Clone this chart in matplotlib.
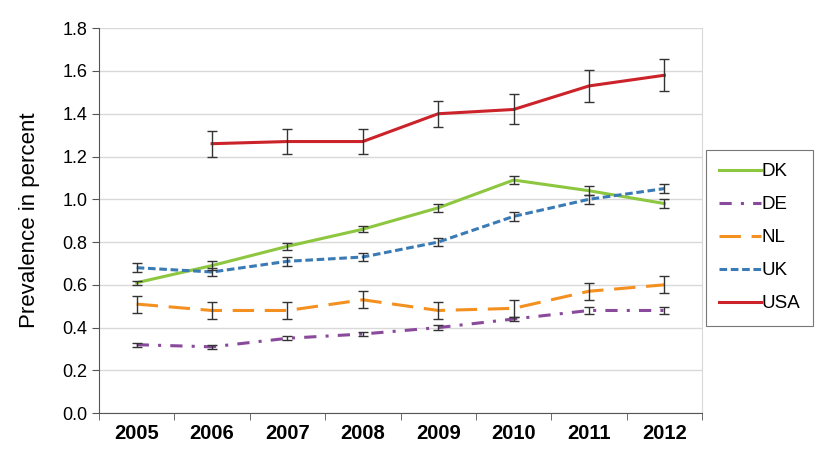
import numpy as np
import matplotlib.pyplot as plt
from matplotlib.ticker import FixedLocator, MultipleLocator

plt.rcParams['font.family'] = ['Liberation Sans', 'DejaVu Sans']

years = ['2005', '2006', '2007', '2008', '2009', '2010', '2011', '2012']

dk = [0.61, 0.69, 0.78, 0.86, 0.96, 1.09, 1.04, 0.98]
dk_err = [0.01, 0.02, 0.015, 0.015, 0.02, 0.02, 0.02, 0.02]
de = [0.32, 0.31, 0.35, 0.37, 0.40, 0.44, 0.48, 0.48]
de_err = [0.01, 0.01, 0.01, 0.01, 0.01, 0.01, 0.015, 0.015]
nl = [0.51, 0.48, 0.48, 0.53, 0.48, 0.49, 0.57, 0.60]
nl_err = [0.04, 0.04, 0.04, 0.04, 0.04, 0.04, 0.04, 0.04]
uk = [0.68, 0.66, 0.71, 0.73, 0.80, 0.92, 1.00, 1.05]
uk_err = [0.02, 0.02, 0.02, 0.02, 0.02, 0.02, 0.02, 0.02]
usa = [np.nan, 1.26, 1.27, 1.27, 1.40, 1.42, 1.53, 1.58]
usa_err = [np.nan, 0.06, 0.06, 0.06, 0.06, 0.07, 0.075, 0.075]

series = [
    ('DK', dk, dk_err, '#8dc63f', '-'),
    ('DE', de, de_err, '#8a4a9c', (0, (4, 3, 1, 3))),
    ('NL', nl, nl_err, '#f39020', (0, (7, 3.5))),
    ('UK', uk, uk_err, '#3a7ab5', (0, (2.5, 1.2))),
    ('USA', usa, usa_err, '#cc2229', '-'),
]

fig = plt.figure(figsize=(8.25, 4.70), dpi=100)
ax = fig.add_axes([0.12, 0.121, 0.731, 0.819])

x = np.arange(len(years))
for name, vals, err, col, ls in series:
    ax.plot(x, vals, color=col, linestyle=ls, linewidth=2.2, label=name, zorder=3)
    ax.errorbar(x, vals, yerr=err, fmt='none', ecolor='#333333',
                elinewidth=1.0, capsize=3.5, capthick=1.0, zorder=4)

ax.set_xlim(-0.5, len(years) - 0.5)
ax.set_ylim(0, 1.8)
ax.yaxis.set_major_locator(MultipleLocator(0.2))
ax.set_yticklabels([f'{v:.1f}' for v in ax.get_yticks()])
ax.set_xticks(x)
ax.set_xticklabels(years, fontsize=14.5, fontweight='bold')
ax.xaxis.set_minor_locator(FixedLocator(np.arange(-0.5, len(years), 1.0)))
ax.tick_params(axis='x', which='major', length=0, pad=8)
ax.tick_params(axis='x', which='minor', length=5, color='#555555')
ax.tick_params(axis='y', labelsize=13, length=5, color='#555555')
ax.set_ylabel('Prevalence in percent', fontsize=16, labelpad=16)

ax.grid(axis='y', color='#d9d9d9', linewidth=1)
ax.set_axisbelow(True)
ax.spines['top'].set_visible(False)
ax.spines['right'].set_color('#d9d9d9')
ax.spines['left'].set_color('#555555')
ax.spines['bottom'].set_color('#555555')

leg = fig.legend(loc='upper left', bbox_to_anchor=(0.856, 0.681), fontsize=13.5,
                 frameon=True, fancybox=False, edgecolor='#555555',
                 handlelength=2.2, handletextpad=0.05, labelspacing=0.85,
                 borderpad=0.7, borderaxespad=0)
leg.get_frame().set_linewidth(0.8)

fig.savefig('out.png', dpi=100)
